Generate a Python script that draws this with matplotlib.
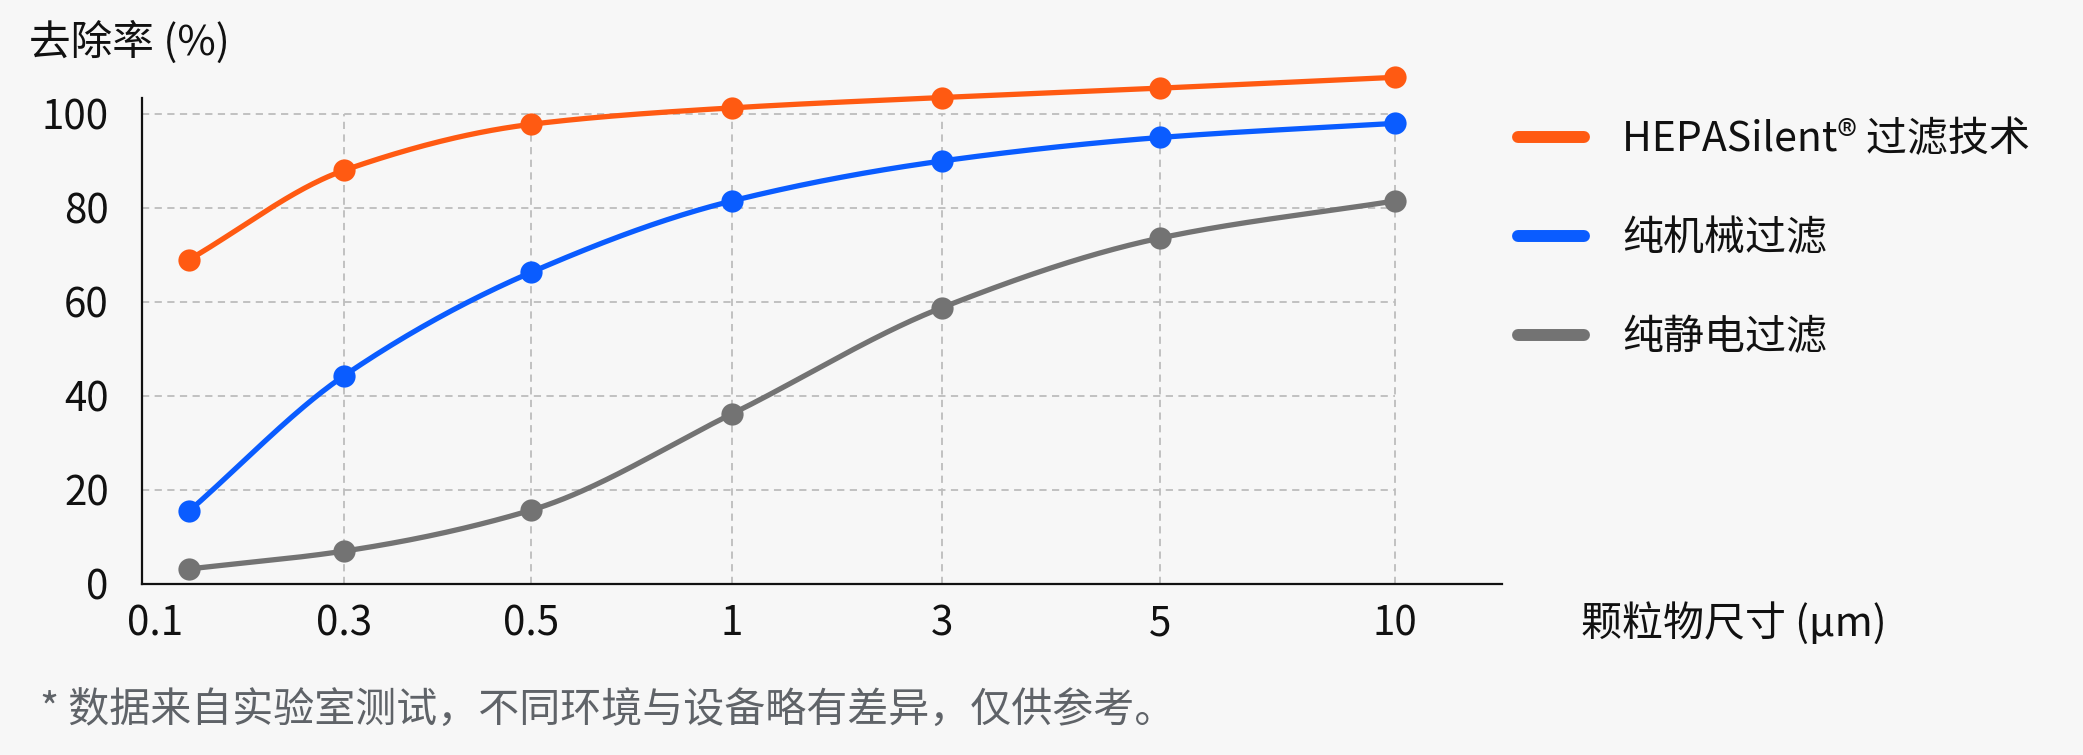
import numpy as np
import matplotlib
matplotlib.use("Agg")
import matplotlib.pyplot as plt
from matplotlib.lines import Line2D
import matplotlib.transforms as mtransforms

plt.rcParams['font.family'] = ['Noto Sans CJK SC', 'DejaVu Sans']

# data
sizes = ["0.1", "0.3", "0.5", "1", "3", "5", "10"]
hepa = [69.0, 88.0, 97.8, 101.3, 103.5, 105.5, 107.8]
mech = [15.5, 44.3, 66.3, 81.5, 90.0, 95.0, 98.0]
elec = [3.2, 7.0, 15.7, 36.2, 58.8, 73.6, 81.5]
names = ["HEPASilent® 过滤技术", "纯机械过滤", "纯静电过滤"]
colors = ["#ff5a12", "#0a5cff", "#737373"]

# layout: uneven spacing of the size categories along x
x_slots = [0, 155, 342, 543, 753, 971, 1206]


def pchip(x, y, xs):
    x = np.asarray(x, float)
    y = np.asarray(y, float)
    h = np.diff(x)
    d = np.diff(y) / h
    m = np.zeros_like(y)
    for k in range(1, len(x) - 1):
        if d[k - 1] * d[k] > 0:
            w1 = 2 * h[k] + h[k - 1]
            w2 = h[k] + 2 * h[k - 1]
            m[k] = (w1 + w2) / (w1 / d[k - 1] + w2 / d[k])
    m[0] = d[0]
    m[-1] = d[-1]
    out = np.empty_like(xs)
    idx = np.clip(np.searchsorted(x, xs) - 1, 0, len(x) - 2)
    for j, xv in enumerate(xs):
        k = idx[j]
        t = (xv - x[k]) / h[k]
        h00 = 2 * t**3 - 3 * t**2 + 1
        h10 = t**3 - 2 * t**2 + t
        h01 = -2 * t**3 + 3 * t**2
        h11 = t**3 - t**2
        out[j] = h00 * y[k] + h10 * h[k] * m[k] + h01 * y[k + 1] + h11 * h[k] * m[k + 1]
    return out


W, H = 2083, 755
fig = plt.figure(figsize=(W / 100, H / 100), dpi=100)
fig.patch.set_facecolor('#f7f7f7')
ax = fig.add_axes([142 / W, (H - 584) / H, (1502 - 142) / W, (584 - 98) / H])
ax.set_facecolor('#f7f7f7')

ax.set_xlim(-47, 1313)
ax.set_ylim(0, 103.4)

yt = [0, 20, 40, 60, 80, 100]
ax.hlines(yt[1:], -47, x_slots[-1], colors='#bdbdbd', linestyles=(0, (4, 3)), lw=1.3, zorder=1)
ax.vlines(x_slots[1:], 0, 100, colors='#bdbdbd', linestyles=(0, (4, 3)), lw=1.3, zorder=1)

xs = np.linspace(x_slots[0], x_slots[-1], 400)
for vals, c in zip([hepa, mech, elec], colors):
    ax.plot(xs, pchip(x_slots, vals, xs), color=c, lw=3.8, clip_on=False, zorder=3,
            solid_capstyle='round')
    ax.plot(x_slots, vals, 'o', color=c, ms=16, mec='none', clip_on=False, zorder=4)

for s in ['top', 'right']:
    ax.spines[s].set_visible(False)
for s in ['left', 'bottom']:
    ax.spines[s].set_linewidth(1.6)
    ax.spines[s].set_color('#111111')

ax.set_yticks(yt)
ax.set_yticklabels([str(v) for v in yt])
ax.set_xticks(x_slots)
ax.set_xticklabels(sizes)
ax.tick_params(axis='both', length=0, labelsize=29, colors='#111111')
ax.tick_params(axis='y', pad=24)
ax.tick_params(axis='x', pad=14)
# first label sits a bit left of its point
lab0 = ax.get_xticklabels()[0]
lab0.set_transform(lab0.get_transform() + mtransforms.ScaledTranslation(-34 / 100, 0, fig.dpi_scale_trans))

fig.text(29 / W, 1 - 42 / H, "去除率 (%)", fontsize=30, color='#111111', va='center', ha='left')
fig.text(1581 / W, 1 - 623 / H, "颗粒物尺寸 (μm)", fontsize=29.5, color='#111111', va='center', ha='left')
fig.text(40 / W, 1 - 711 / H, "* 数据来自实验室测试，不同环境与设备略有差异，仅供参考。",
         fontsize=29.5, color='#5f6368', va='center', ha='left')

handles = [Line2D([0], [0], color=c, lw=8.6, solid_capstyle='round') for c in colors]
leg = fig.legend(handles, names, loc='upper left', bbox_to_anchor=(1518 / W, 1 - 119 / H),
                 frameon=False, fontsize=29.5, handlelength=1.6, handletextpad=0.95,
                 labelspacing=1.42, borderaxespad=0, borderpad=0)
for t in leg.get_texts():
    t.set_color('#111111')

fig.savefig("out.png", dpi=100, facecolor=fig.get_facecolor())
